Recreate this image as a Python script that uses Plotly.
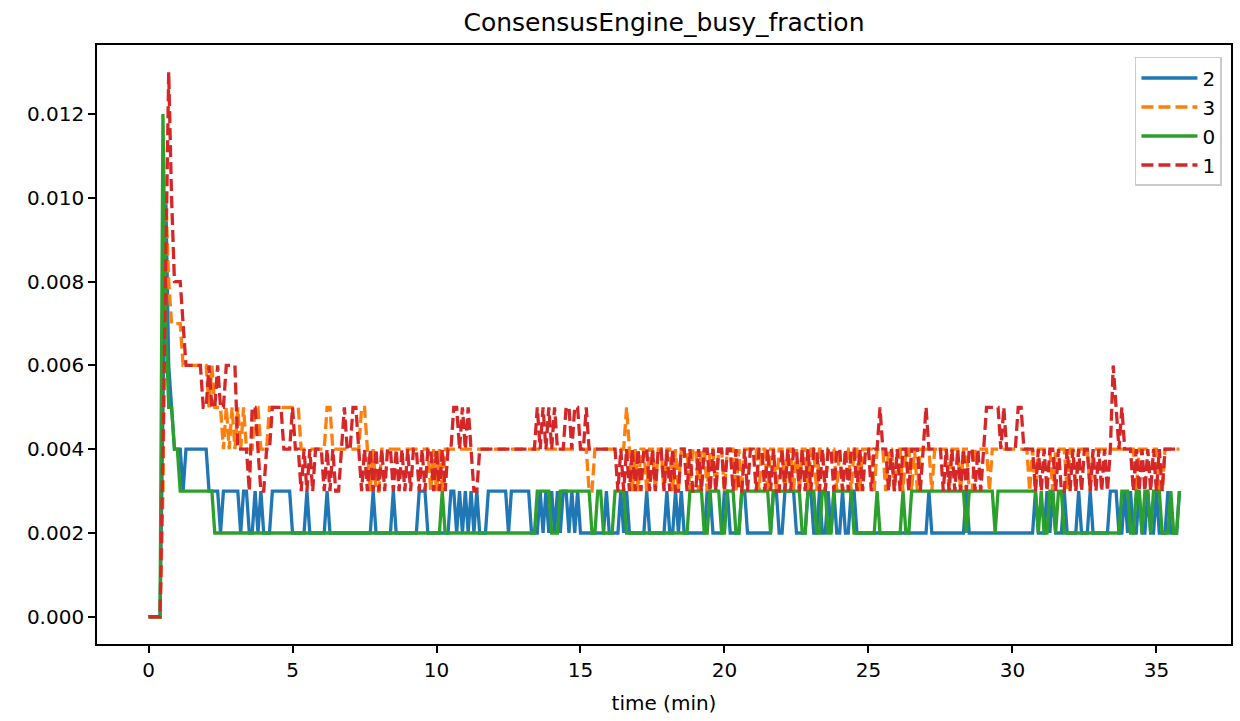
import plotly.graph_objects as go

# Sampling step in minutes
DT_MIN = 0.1

# Values in thousandths (hex digit per sample, 'a'=10 ... 'd'=13), one group per minute
SERIES_2 = ("000005a654 4434444444 4333323333 3323322323 2223333333 2222232222 "
            "2232222222 2222222232 2222232222 2222333222 2222233232 3232322233 "
            "3333323333 3332223232 3232332323 2222222223 2222323222 2223222222 "
            "3223232222 2222332222 3322223322 2222222332 2333322223 3223223232 "
            "2322332222 2222222222 2222222222 2322222222 2222322222 2222222222 "
            "2222222232 2232322232 2223222322 2222333223 2322322322 322232223")

SERIES_3 = ("000003a877 7766666666 6565554545 4545444554 4455555555 5554444444 "
            "4455444444 4444554343 3444444444 4444444434 3434444444 4444444444 "
            "4444444444 4444444444 4444444444 4443344444 4444445434 3443443443 "
            "4434344434 4344344344 3444343444 4434434434 4344343443 4434434443 "
            "4344344344 4434443443 4434434344 4434444434 4434433444 4434444444 "
            "4444443434 4444344443 4434444344 4444444444 4443444444 433444444")

SERIES_0 = ("00000c7554 4333333333 3332222222 2222222222 2222222222 2222222222 "
            "2222222222 2222222222 2222222222 2222222222 2232222222 2222222222 "
            "2222222222 2222233333 2223333333 3333223322 2233332222 2222222222 "
            "2222222233 3332233332 2333223333 3333332333 3333333223 3322332233 "
            "3333322222 2223222222 2232233333 3333333333 3333233333 3333233333 "
            "3333333332 3223323322 2222222222 2222222233 3223323323 332223223")

SERIES_1 = ("0000049da8 8876666665 5655655666 6444435543 3445555444 5443434344 "
            "4343433454 4554343434 3434434343 4344343443 4343445545 4543344444 "
            "4444444444 4444454545 4544455455 4454444444 4443434343 4344343443 "
            "4343344343 3434434344 3443433434 4344343433 4343443434 3443434434 "
            "4343443434 4344544343 4344344434 5444443434 3434344343 4555554544 "
            "4455444434 3434434334 3434344343 4343465454 4434343434 343444444")

LEGEND_NAMES = ["2", "3", "0", "1"]
X_TICKS = [0, 5, 10, 15, 20, 25, 30, 35]
Y_TICKS = [0.0, 0.002, 0.004, 0.006, 0.008, 0.010, 0.012]


def decode(s):
    return [int(c, 16) / 1000.0 for c in s.replace(" ", "")]


series = [decode(SERIES_2), decode(SERIES_3), decode(SERIES_0), decode(SERIES_1)]
colors = ["#1f77b4", "#ff7f0e", "#2ca02c", "#d62728"]
dashes = ["solid", "12px,5px", "solid", "12px,5px"]

fig = go.Figure()
for name, vals, col, dash in zip(LEGEND_NAMES, series, colors, dashes):
    t = [i * DT_MIN for i in range(len(vals))]
    fig.add_trace(go.Scatter(x=t, y=vals, mode="lines", name=name,
                             line=dict(color=col, width=3.3, dash=dash)))

font_family = "DejaVu Sans"
fig.update_layout(
    width=1240, height=721,
    margin=dict(l=97, r=9, t=45, b=77, autoexpand=False),
    paper_bgcolor="white", plot_bgcolor="white",
    font=dict(family=font_family, size=20, color="black"),
    title=dict(text="ConsensusEngine_busy_fraction", x=0.5, xref="paper",
               y=1 - 22 / 721, yref="container", yanchor="middle", automargin=False,
               font=dict(size=25, family=font_family, color="black")),
    showlegend=True,
    legend=dict(x=0.992, y=0.98, xanchor="right", yanchor="top",
                bgcolor="rgba(255,255,255,0.8)", bordercolor="#cccccc", borderwidth=1.5,
                font=dict(size=20, family=font_family), tracegroupgap=2, itemwidth=56),
)
fig.update_xaxes(range=[-1.79, 37.59], tickvals=X_TICKS, ticks="outside", ticklen=7,
                 tickwidth=1.7, tickcolor="black", showline=True, linecolor="black",
                 linewidth=1.7, mirror=True, showgrid=False, zeroline=False, automargin=False,
                 tickfont=dict(size=20), title=dict(text="time (min)", font=dict(size=20), standoff=15))
fig.update_yaxes(range=[-0.00065, 0.01365], tickvals=Y_TICKS, tickformat=".3f", ticks="outside",
                 ticklen=7, tickwidth=1.7, tickcolor="black", showline=True, linecolor="black",
                 linewidth=1.7, mirror=True, showgrid=False, zeroline=False, automargin=False,
                 tickfont=dict(size=20))

fig.write_html("out.html", config={"displayModeBar": False},
               post_script="document.body.style.margin='0';document.body.style.padding='0';")
